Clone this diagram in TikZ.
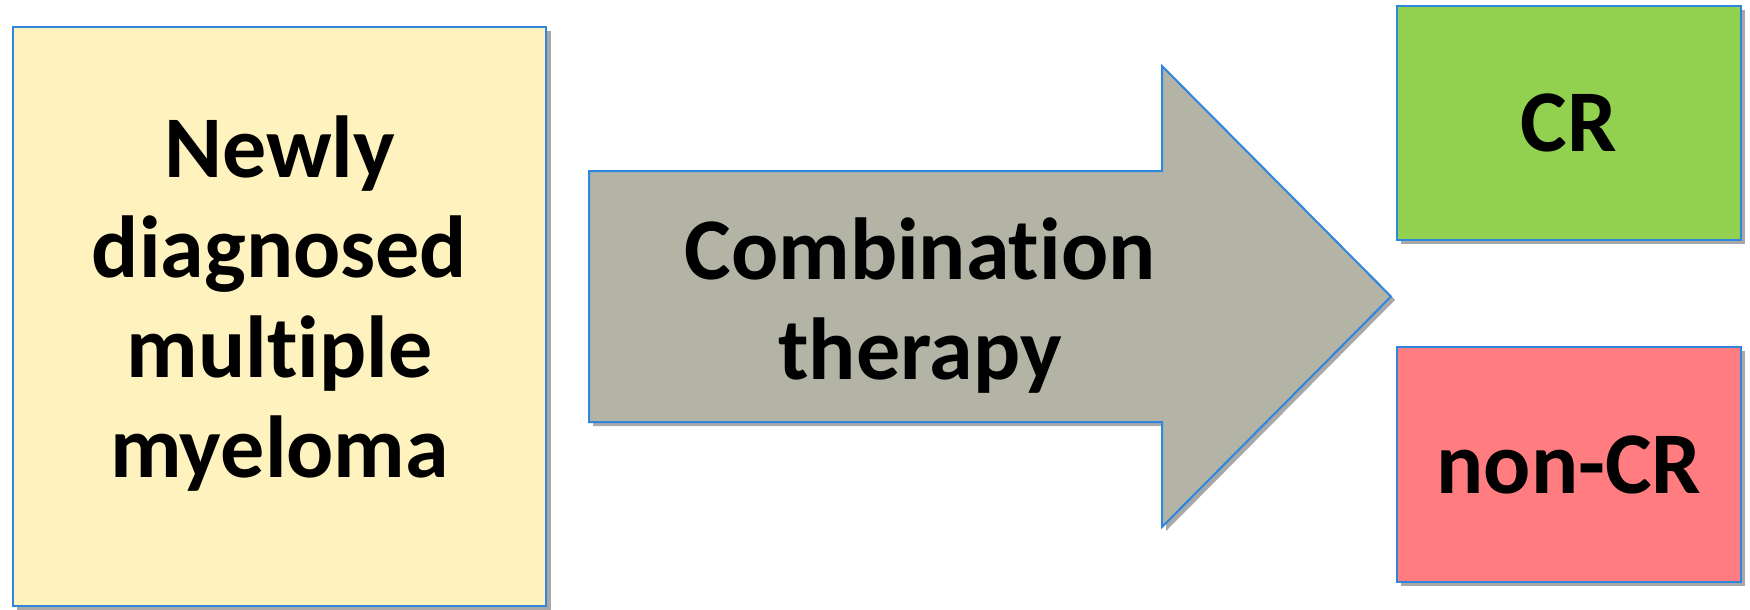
\documentclass[tikz,border=0pt]{standalone}
\usepackage{fontspec}
\setmainfont[RawFeature={-liga;-clig;-dlig}]{Carlito}
\definecolor{edgeblue}{HTML}{2E86DE}
\definecolor{boxyellow}{HTML}{FEF2BF}
\definecolor{boxgreen}{HTML}{92D050}
\definecolor{boxred}{HTML}{FF7C80}
\definecolor{arrowgray}{HTML}{B3B3A6}
\definecolor{shadowgray}{HTML}{A8A8A8}
\tikzset{
  box/.style={draw=edgeblue, line width=2pt, inner sep=0pt, font=\fontsize{88}{100}\selectfont\bfseries, align=center},
  shade/.style={fill=shadowgray, draw=none},
}
\begin{document}
\begin{tikzpicture}[x=1pt,y=-1pt]
\useasboundingbox (0,0) rectangle (1750,610);
\fill[white] (0,0) rectangle (1750,610);
% shadows
\fill[shade] (17,31) rectangle (551,610);
\fill[shade] (1401,10) rectangle (1745,244);
\fill[shade] (1401,351) rectangle (1745,586);
\fill[shade] (593,175) -- (1166,175) -- (1166,70) -- (1395,300) -- (1166,531) -- (1166,426) -- (593,426) -- cycle;
% left box
\node[box, fill=boxyellow, minimum width=533pt, minimum height=579pt] (nmm) at (279.5,316.5) {};
\node[font=\fontsize{88}{100}\selectfont\bfseries, align=center] (nmmt) at (279.5,304) {Newly\\diagnosed\\multiple\\myeloma};
% arrow
\coordinate (a1) at (589,171);
\coordinate (a2) at (1162,171);
\coordinate (a3) at (1162,66);
\coordinate (tip) at (1391,296.5);
\coordinate (a5) at (1162,527);
\coordinate (a6) at (1162,422);
\coordinate (a7) at (589,422);
\draw[draw=edgeblue, line width=2pt, fill=arrowgray, line join=miter] (a1) -- (a2) -- (a3) -- (tip) -- (a5) -- (a6) -- (a7) -- cycle;
\node[font=\fontsize{88}{100}\selectfont\bfseries, align=center] (ct) at (920,306) {Combination\\therapy};
% outcome boxes
\node[box, fill=boxgreen, minimum width=344pt, minimum height=234pt] (cr) at (1569,123) {CR};
\node[box, fill=boxred, minimum width=344pt, minimum height=235pt] (ncr) at (1569,464.5) {non-CR};
\end{tikzpicture}
\end{document}
